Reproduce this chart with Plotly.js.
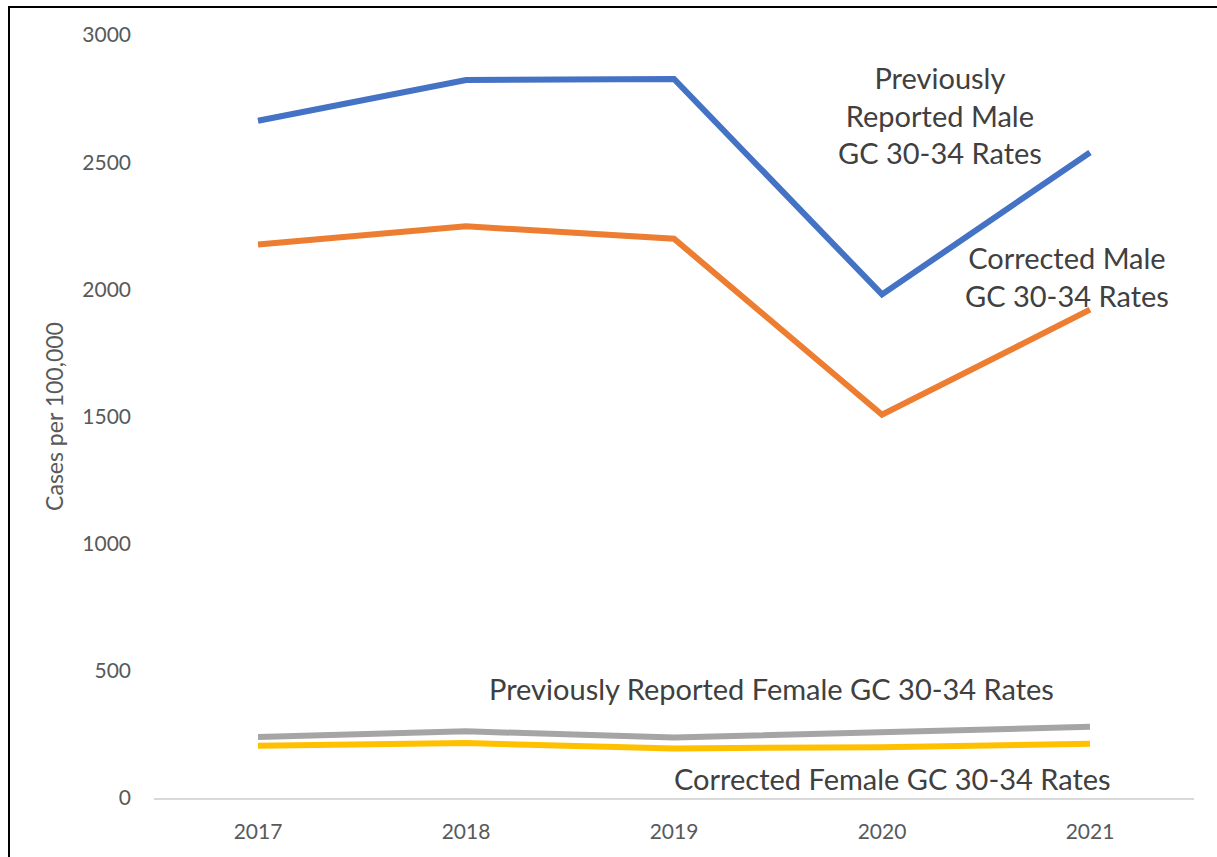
<!DOCTYPE html>
<html>
<head>
<meta charset="utf-8">
<script src="https://cdn.plot.ly/plotly-3.0.1.min.js"></script>
<style>
  html, body { margin: 0; padding: 0; background: #fff; }
  #wrap { position: relative; width: 1217px; height: 857px; }
  #chart { position: absolute; left: 0; top: 0; width: 1217px; height: 857px; }
  #frame { position: absolute; left: 8px; top: 6px; width: 1209px; height: 851px;
           border-left: 2px solid #000; border-top: 2px solid #000; box-sizing: border-box; pointer-events: none; }
</style>
</head>
<body>
<div id="wrap">
  <div id="chart"></div>
  <div id="frame"></div>
</div>
<script>
const years = ['2017', '2018', '2019', '2020', '2021'];
const prevMale = [2663, 2823, 2827, 1980, 2538];
const corrMale = [2176, 2248, 2199, 1507, 1920];
const prevFemale = [240, 262, 238, 260, 280];
const corrFemale = [205, 216, 195, 200, 213];
const yTicks = [0, 500, 1000, 1500, 2000, 2500, 3000];

const seriesNames = ['Previously Reported Male GC 30-34 Rates', 'Corrected Male GC 30-34 Rates',
                     'Previously Reported Female GC 30-34 Rates', 'Corrected Female GC 30-34 Rates'];
const seriesData = [prevMale, corrMale, prevFemale, corrFemale];
const seriesColors = ['#4472C4', '#ED7D31', '#A5A5A5', '#FFC000'];

const traces = seriesData.map((d, i) => ({
  x: years, y: d, type: 'scatter', mode: 'lines', name: seriesNames[i],
  line: { color: seriesColors[i], width: 6 }, hoverinfo: 'skip'
}));

const fontFam = 'Lato, "Open Sans", sans-serif';
const annFont = { family: fontFam, size: 29, color: '#404040' };

const layout = {
  width: 1217, height: 857,
  margin: { l: 154, r: 23, t: 35, b: 59 },
  paper_bgcolor: '#fff', plot_bgcolor: '#fff',
  showlegend: false,
  font: { family: fontFam, color: '#595959' },
  xaxis: {
    type: 'category', range: [-0.5, 4.5], showgrid: false, zeroline: false,
    showline: true, linecolor: '#d9d9d9', linewidth: 2,
    ticks: '', tickfont: { family: fontFam, size: 21, color: '#595959' },
    ticklabelstandoff: 14
  },
  yaxis: {
    range: [0, 3000], tickvals: yTicks, ticktext: yTicks.map(String),
    showgrid: false, zeroline: false, showline: false, ticks: '',
    tickfont: { family: fontFam, size: 21, color: '#595959' },
    ticklabelstandoff: 22,
    title: { text: 'Cases per 100,000', font: { family: fontFam, size: 23, color: '#595959' }, standoff: 12 }
  },
  annotations: [
    { x: 3.28, y: 2686, xref: 'x', yref: 'y', text: 'Previously<br>Reported Male<br>GC 30-34 Rates',
      showarrow: false, font: annFont, align: 'center' },
    { x: 3.89, y: 2049, xref: 'x', yref: 'y', text: 'Corrected Male<br>GC 30-34 Rates',
      showarrow: false, font: annFont, align: 'center' },
    { x: 2.47, y: 429, xref: 'x', yref: 'y', text: 'Previously Reported Female GC 30-34 Rates',
      showarrow: false, font: annFont, align: 'center' },
    { x: 3.05, y: 75, xref: 'x', yref: 'y', text: 'Corrected Female GC 30-34 Rates',
      showarrow: false, font: annFont, align: 'center' }
  ]
};

Plotly.newPlot('chart', traces, layout, { staticPlot: true, displayModeBar: false });
</script>
</body>
</html>
